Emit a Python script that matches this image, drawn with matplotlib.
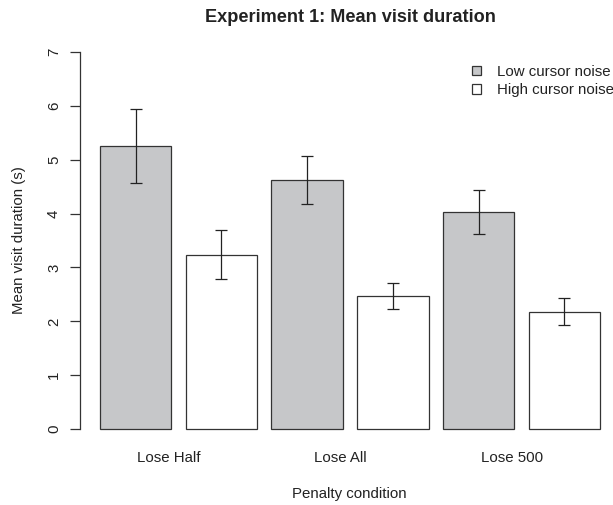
import numpy as np
import matplotlib
matplotlib.use("Agg")
import matplotlib.pyplot as plt
from matplotlib.patches import Patch
from matplotlib.transforms import blended_transform_factory

# data
conditions = ["Lose Half", "Lose All", "Lose 500"]
series = ["Low cursor noise", "High cursor noise"]
low_noise = [5.25, 4.62, 4.03]
high_noise = [3.24, 2.47, 2.18]
low_err = [0.69, 0.45, 0.40]
high_err = [0.45, 0.24, 0.245]

plt.rcParams['font.family'] = ['Liberation Sans', 'DejaVu Sans']
fs = 10.85
dpi = 100
W, H = 613, 505

fig = plt.figure(figsize=(W / dpi, H / dpi), dpi=dpi)
# plot region like R's, running a bit past the right edge of the image
ax = fig.add_axes([80 / W, (H - 444.1) / H, 540 / W, 407.1 / H])

# R barplot layout: width 1, space 0.2, bars interleaved per group
heights = np.ravel(np.column_stack([low_noise, high_noise]))
errs = np.ravel(np.column_stack([low_err, high_err]))
x = 0.2 + np.arange(len(heights)) * 1.2 + 0.5
colors = ['#c6c7c9', 'white'] * len(conditions)

ax.bar(x, heights, width=1.0, color=colors, edgecolor='#333333',
       linewidth=0.9, zorder=2)
ax.errorbar(x, heights, yerr=errs, fmt='none', ecolor='#222222',
            elinewidth=0.9, capsize=4.3, capthick=0.9, zorder=3)

ax.set_xlim(-0.08, 7.48)
ax.set_ylim(-0.28, 7.28)

for s in ['top', 'right', 'bottom']:
    ax.spines[s].set_visible(False)
ax.spines['left'].set_bounds(0, 7)
ax.spines['left'].set_color('#333333')
ax.spines['left'].set_linewidth(0.9)

ax.set_yticks(range(8))
ax.set_yticklabels([str(i) for i in range(8)], rotation=90,
                   rotation_mode='anchor', ha='center', va='baseline',
                   fontsize=fs, color='#222222')
ax.tick_params(axis='y', length=7.2, width=0.9, pad=8.6, color='#333333')
ax.set_xticks([])

# group names, a little left of the group centres as in the original
trans = blended_transform_factory(ax.transData, ax.transAxes)
group_centres = (x[0::2] + x[1::2]) / 2
for xc, name in zip(group_centres - 0.134, conditions):
    ax.text(xc, (444.1 - 462.3) / 407.1, name, transform=trans,
            ha='center', va='baseline', fontsize=fs, color='#222222')

fig.text(350 / W, 1 - 21.5 / H, "Experiment 1: Mean visit duration",
         ha='center', va='baseline', fontsize=fs * 1.2, fontweight='bold',
         color='#222222')
fig.text(349 / W, 1 - 497.7 / H, "Penalty condition", ha='center',
         va='baseline', fontsize=fs, color='#222222')
fig.text(23 / W, 1 - 240.5 / H, "Mean visit duration (s)", rotation=90,
         rotation_mode='anchor', ha='center', va='baseline', fontsize=fs,
         color='#222222')

handles = [Patch(facecolor='#c6c7c9', edgecolor='#333333', linewidth=0.9),
           Patch(facecolor='white', edgecolor='#333333', linewidth=0.9)]
leg = fig.legend(handles, series, loc='upper left',
                 bbox_to_anchor=(471.7 / W, 1 - 65 / H),
                 frameon=False, fontsize=fs, handlelength=0.6,
                 handleheight=0.6, handletextpad=1.06, labelspacing=0.28,
                 borderpad=0, borderaxespad=0)
for t in leg.get_texts():
    t.set_color('#222222')

fig.savefig("out.png", dpi=dpi)
